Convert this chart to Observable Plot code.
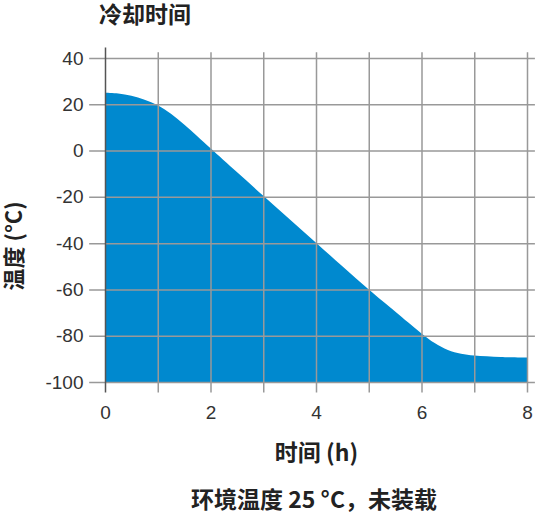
<!DOCTYPE html>
<html><head><meta charset="utf-8">
<script src="https://cdn.jsdelivr.net/npm/d3@7"></script>
<script src="https://cdn.jsdelivr.net/npm/@observablehq/plot@0.6"></script>
<style>
body{margin:0;background:#fff;width:545px;height:515px;overflow:hidden;font-family:"Noto Sans CJK SC",sans-serif;}
#title{position:absolute;left:99px;top:1px;font-size:23px;font-weight:bold;color:#222;line-height:24px;white-space:nowrap}
#chart{position:absolute;left:0;top:30px}
#caption{position:absolute;left:103px;width:422px;top:486px;text-align:center;font-size:23px;font-weight:bold;color:#222;line-height:24px;white-space:nowrap}
</style></head><body>
<div id="title">冷却时间</div>
<div id="chart"></div>
<div id="caption">环境温度 25 °C，未装载</div>
<script>
const hours = [0, 0.25, 0.5, 0.75, 1, 1.25, 1.5, 1.75, 2, 2.5, 3, 3.5, 4, 4.5, 5, 5.5, 5.75, 6, 6.25, 6.5, 6.75, 7, 7.5, 8];
const temps = [25, 24.7, 23.7, 22, 19.6, 15.9, 11.3, 6.2, 1, -9.3, -19.5, -29.7, -39.8, -50, -60, -69.5, -74.3, -79, -83.2, -86.2, -87.8, -88.6, -89.2, -89.4];
const xTicks = [0, 2, 4, 6, 8];
const xGrid = [1, 2, 3, 4, 5, 6, 7, 8];
const yTicks = [40, 20, 0, -20, -40, -60, -80, -100];
const xLabel = "时间 (h)";
const yLabel = "温度 (°C)";

const data = hours.map((h, i) => ({h, t: temps[i]}));
const numFont = '"Liberation Sans", Arial, sans-serif';
const cjkFont = '"Noto Sans CJK SC", sans-serif';

const plot = Plot.plot({
  width: 545, height: 440,
  marginLeft: 105, marginRight: 18, marginTop: 28, marginBottom: 88,
  x: {domain: [0, 8], axis: null},
  y: {domain: [-100, 40], axis: null},
  style: {fontFamily: numFont, background: "#fff", overflow: "visible"},
  marks: [
    Plot.areaY(data, {x: "h", y1: -100, y2: "t", fill: "#0089cf", curve: "catmull-rom"}),
    Plot.ruleY(yTicks, {x1: -0.3, x2: 8.15, stroke: "#999", strokeWidth: 1.5}),
    Plot.ruleX(xGrid, {y1: -104.5, y2: 42.5, stroke: "#999", strokeWidth: 1.5}),
    Plot.ruleX([0], {y1: -104.5, y2: 44.5, stroke: "#555", strokeWidth: 1.5}),
    Plot.text(yTicks, {x: 0, y: d => d, dx: -22, textAnchor: "end", lineAnchor: "middle", text: d => String(d), fontSize: 19, fill: "#333"}),
    Plot.text(xTicks, {x: d => d, y: -100, dy: 30, lineAnchor: "middle", text: d => String(d), fontSize: 19, fill: "#333"}),
    Plot.text([xLabel], {frameAnchor: "bottom", dy: 71, lineAnchor: "middle", text: d => d, fontSize: 23, fontWeight: "bold", fill: "#222", fontFamily: cjkFont}),
    Plot.text([yLabel], {x: -1.71, y: -41, rotate: -90, lineAnchor: "middle", text: d => d, fontSize: 22, fontWeight: "bold", fill: "#222", fontFamily: cjkFont})
  ]
});
document.getElementById("chart").appendChild(plot);
</script>
</body></html>
